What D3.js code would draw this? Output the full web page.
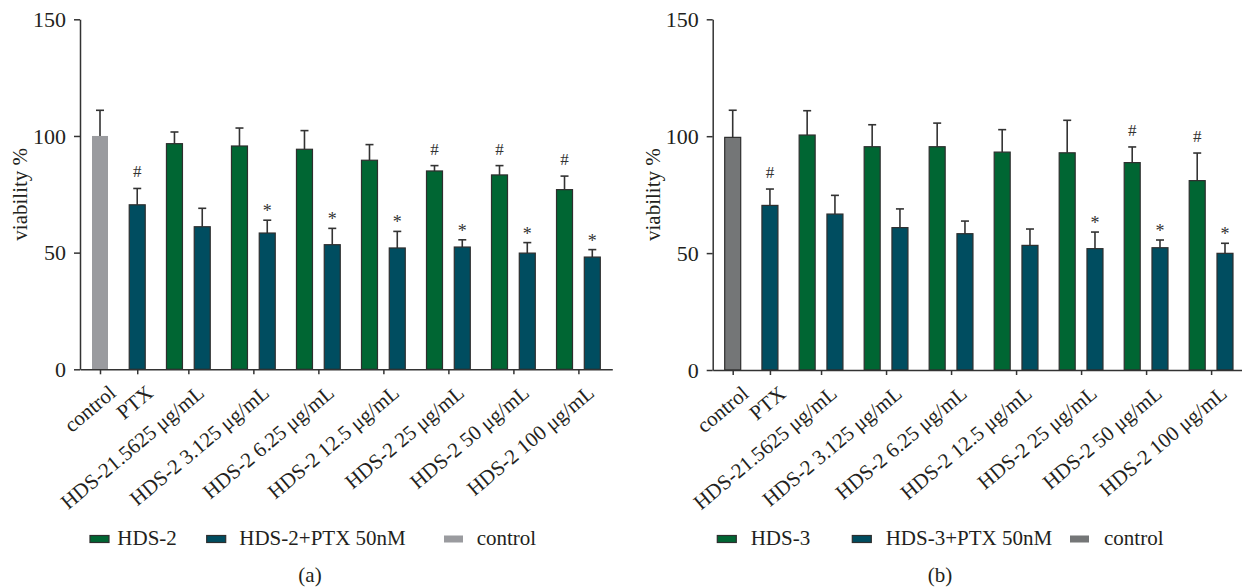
<!DOCTYPE html>
<html>
<head>
<meta charset="utf-8">
<script src="https://cdn.jsdelivr.net/npm/d3@7"></script>
<style>
  html, body { margin: 0; padding: 0; background: #fff; }
  svg { display: block; }
</style>
</head>
<body>
<svg id="chart" width="1242" height="588" font-family="'Liberation Serif', 'DejaVu Serif', serif"></svg>
<script>
// category labels (same wording on both panels)
const categories = ['control', 'PTX', 'HDS-21.5625 μg/mL', 'HDS-2 3.125 μg/mL', 'HDS-2 6.25 μg/mL',
  'HDS-2 12.5 μg/mL', 'HDS-2 25 μg/mL', 'HDS-2 50 μg/mL', 'HDS-2 100 μg/mL'];
const yTicks = [0, 50, 100, 150];

// panel (a) - HDS-2
const controlA = [100, 11];      // mean, error
const ptxA = [70.5, 7];
const ptxMarkA = '#';
const hds2Mean = [96.7, 95.7, 94.3, 89.6, 85.0, 83.3, 77.0];
const hds2Err = [5.0, 7.7, 8.0, 6.7, 2.3, 4.0, 5.8];
const hds2Mark = ['', '', '', '', '#', '#', '#'];
const hds2PtxMean = [61.1, 58.4, 53.4, 52.0, 52.4, 49.8, 48.1];
const hds2PtxErr = [7.9, 5.5, 7.0, 7.1, 3.1, 4.5, 3.2];
const hds2PtxMark = ['', '*', '*', '*', '*', '*', '*'];
const legendA = ['HDS-2', 'HDS-2+PTX 50nM', 'control'];

// panel (b) - HDS-3
const controlB = [99.5, 11.6];
const ptxB = [70.4, 7.0];
const ptxMarkB = '#';
const hds3Mean = [100.5, 95.5, 95.5, 93.2, 92.9, 88.7, 81.0];
const hds3Err = [10.4, 9.4, 10.1, 9.6, 13.9, 6.7, 11.8];
const hds3Mark = ['', '', '', '', '', '#', '#'];
const hds3PtxMean = [66.7, 60.9, 58.3, 53.3, 51.9, 52.3, 49.9];
const hds3PtxErr = [8.0, 8.0, 5.4, 7.0, 7.1, 3.3, 4.3];
const hds3PtxMark = ['', '', '', '', '*', '*', '*'];
const legendB = ['HDS-3', 'HDS-3+PTX 50nM', 'control'];

const GREEN = '#006633', BLUE = '#004d60', INK = '#231f20', EDGE = '#2e2e2e';
const GAP = 1.34; // space between groups, in bar steps

const svg = d3.select('#chart');

function drawPanel(p) {
  const g = svg.append('g');

  const x = d3.scaleLinear().domain([-0.72, 18.44]).range([p.x0, p.x0 + 532.3]);
  const y = d3.scaleLinear().domain([0, 150]).range([p.y0, 19.3]);

  // build bars from the arrays
  const bars = [
    { u: 0, v: p.control[0], e: p.control[1], fill: p.controlFill, stroke: p.controlStroke, mark: '' },
    { u: GAP, v: p.ptx[0], e: p.ptx[1], fill: BLUE, stroke: EDGE, mark: p.ptxMark }
  ];
  const tickU = [0, GAP];
  p.hdsMean.forEach((m, i) => {
    const u = 2 * GAP + i * (1 + GAP);
    bars.push({ u: u, v: m, e: p.hdsErr[i], fill: GREEN, stroke: EDGE, mark: p.hdsMark[i] });
    bars.push({ u: u + 1, v: p.comboMean[i], e: p.comboErr[i], fill: BLUE, stroke: EDGE, mark: p.comboMark[i] });
    tickU.push(u + 0.5);
  });

  const bw = 16;

  // error bars (upper only)
  const eb = g.append('g').attr('stroke', '#333').attr('stroke-width', 1.6);
  eb.selectAll('line.v').data(bars).enter().append('line')
    .attr('x1', d => x(d.u)).attr('x2', d => x(d.u))
    .attr('y1', d => y(d.v)).attr('y2', d => y(d.v + d.e));
  eb.selectAll('line.c').data(bars).enter().append('line')
    .attr('x1', d => x(d.u) - 4).attr('x2', d => x(d.u) + 4)
    .attr('y1', d => y(d.v + d.e)).attr('y2', d => y(d.v + d.e));

  g.selectAll('rect.bar').data(bars).enter().append('rect')
    .attr('x', d => x(d.u) - bw / 2)
    .attr('y', d => y(d.v))
    .attr('width', bw)
    .attr('height', d => y(0) - y(d.v))
    .attr('fill', d => d.fill)
    .attr('stroke', d => d.stroke)
    .attr('stroke-width', 1.2);

  // significance marks
  g.selectAll('text.mark').data(bars.filter(d => d.mark)).enter().append('text')
    .attr('x', d => x(d.u))
    .attr('y', d => y(d.v + d.e) - (d.mark === '#' ? 11 : 3))
    .attr('text-anchor', 'middle')
    .attr('font-size', d => d.mark === '#' ? 17 : 18)
    .attr('fill', '#333')
    .text(d => d.mark);

  // axes
  const ya = g.append('g').attr('transform', `translate(${p.x0},0)`)
    .call(d3.axisLeft(y).tickValues(yTicks).tickSize(6).tickSizeOuter(0).tickPadding(8));
  ya.attr('font-family', null).attr('font-size', 22);
  ya.selectAll('text').attr('fill', INK);

  const xa = g.append('g').attr('transform', `translate(0,${p.y0})`)
    .call(d3.axisBottom(x).tickValues(tickU).tickFormat((d, i) => categories[i]).tickSize(5).tickSizeOuter(0));
  xa.attr('font-family', null).attr('font-size', 21);
  xa.selectAll('text')
    .attr('fill', INK)
    .attr('x', 0).attr('y', 0).attr('dy', '0.35em')
    .attr('text-anchor', 'end')
    .attr('transform', 'translate(12,20) rotate(-40)');

  [ya, xa].forEach(a => {
    a.select('.domain').attr('stroke', '#333').attr('stroke-width', 1.5);
    a.selectAll('.tick line').attr('stroke', '#333').attr('stroke-width', 1.5);
  });

  g.append('text')
    .attr('transform', `translate(${p.x0 - 60},${(p.y0 + 19.3) / 2}) rotate(-90)`)
    .attr('text-anchor', 'middle')
    .attr('dy', '0.35em')
    .attr('font-size', 21)
    .attr('fill', INK)
    .text('viability %');

  // legend
  const fills = [GREEN, BLUE, p.controlFill];
  const lg = g.selectAll('g.leg').data(p.legend).enter().append('g')
    .attr('transform', (d, i) => `translate(${p.legendX[i]},545)`);
  lg.append('rect')
    .attr('x', 0).attr('y', -9.5).attr('width', 19).attr('height', 7)
    .attr('fill', (d, i) => fills[i])
    .attr('stroke', (d, i) => i < 2 ? EDGE : 'none')
    .attr('stroke-width', 1.2);
  lg.append('text')
    .attr('x', (d, i) => p.legendTextDx[i])
    .attr('font-size', 21)
    .attr('fill', INK)
    .text(d => d);

  g.append('text')
    .attr('x', p.labelX).attr('y', 582)
    .attr('text-anchor', 'middle')
    .attr('font-size', 21)
    .attr('fill', INK)
    .text(p.label);
}

drawPanel({
  x0: 80, y0: 369.3,
  control: controlA, controlFill: '#9a9b9f', controlStroke: 'none',
  ptx: ptxA, ptxMark: ptxMarkA,
  hdsMean: hds2Mean, hdsErr: hds2Err, hdsMark: hds2Mark,
  comboMean: hds2PtxMean, comboErr: hds2PtxErr, comboMark: hds2PtxMark,
  legend: legendA, legendX: [90, 206.7, 444], legendTextDx: [27.3, 32.6, 32.7],
  label: '(a)', labelX: 310
});

drawPanel({
  x0: 712.7, y0: 370,
  control: controlB, controlFill: '#747677', controlStroke: EDGE,
  ptx: ptxB, ptxMark: ptxMarkB,
  hdsMean: hds3Mean, hdsErr: hds3Err, hdsMark: hds3Mark,
  comboMean: hds3PtxMean, comboErr: hds3PtxErr, comboMark: hds3PtxMark,
  legend: legendB, legendX: [717.3, 852.3, 1070], legendTextDx: [33.4, 33.4, 34],
  label: '(b)', labelX: 940
});
</script>
</body>
</html>
